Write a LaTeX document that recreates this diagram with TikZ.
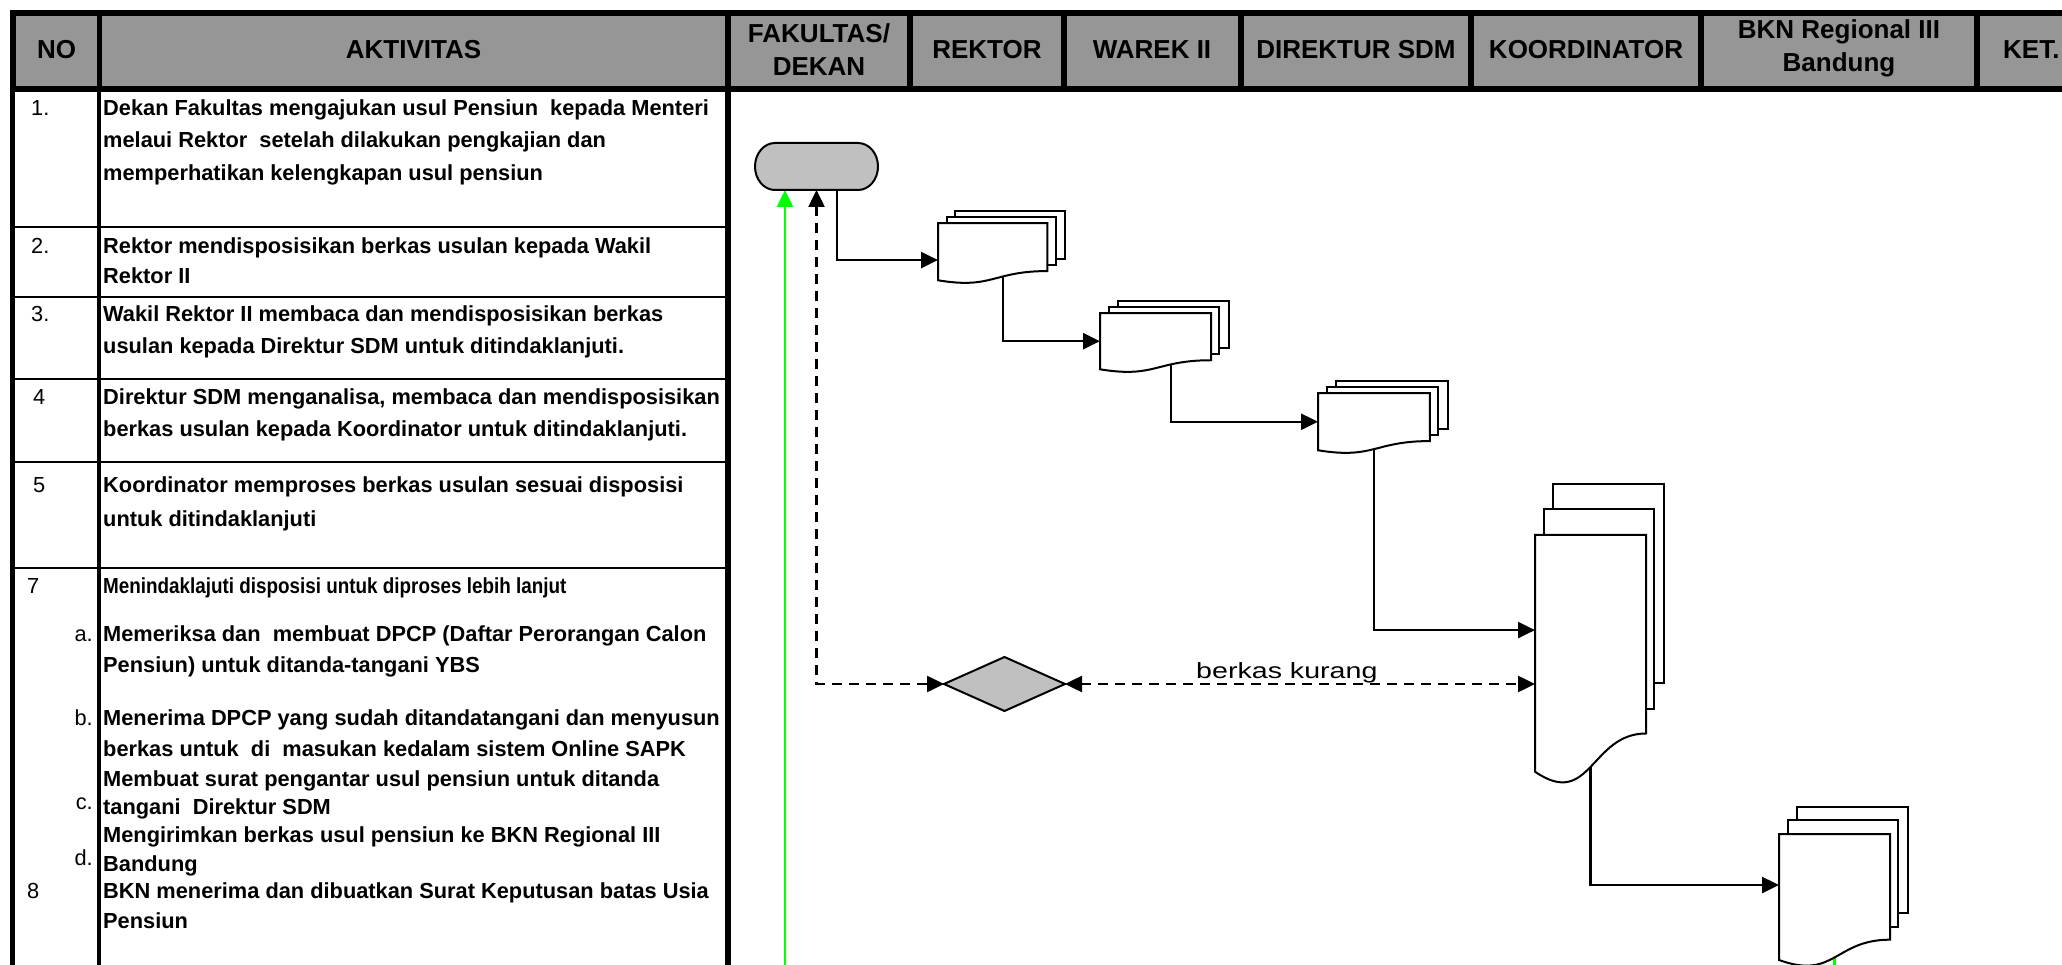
\documentclass[tikz,border=0pt]{standalone}
\usepackage{fontspec}
\usepackage{graphicx}
\setmainfont{Liberation Sans}
\usetikzlibrary{arrows.meta}
\definecolor{hdrgray}{HTML}{969696}
\definecolor{shgray}{HTML}{C0C0C0}
\definecolor{lgreen}{HTML}{00FF00}
% invisible node for the front page of a multi-document shape: name, x0, y0, w, h
\newcommand{\mdocnode}[5]{%
  \node[anchorbox, anchor=north west, minimum width=0.8609*#4pt, minimum height=0.792*#5pt] (#1) at ({#2},{#3+0.1701*#5}) {};}
% visible multi-document shape: x0, y0, w, h
\newcommand{\mdocdraw}[4]{%
  \draw[outl, fill=white] ({#1+0.1376*#3},{#2}) rectangle ({#1+#3},{#2+0.6663*#4});
  \draw[outl, fill=white] ({#1+0.0709*#3},{#2+0.084*#4}) rectangle ({#1+0.9259*#3},{#2+0.7524*#4});
  \draw[outl, fill=white] ({#1},{#2+0.1701*#4}) -- ({#1+0.8609*#3},{#2+0.1701*#4})
     -- ({#1+0.8609*#3},{#2+0.8344*#4})
     .. controls ({#1+0.4305*#3},{#2+0.8344*#4}) and ({#1+0.4305*#3},{#2+1.0899*#4}) ..
     ({#1},{#2+0.9621*#4}) -- cycle;}
\begin{document}
\begin{tikzpicture}[x=1pt,y=-1pt,
  hline/.style={line width=6pt},
  rowline/.style={line width=2pt},
  hdr/.style={font=\fontsize{26}{30}\selectfont\bfseries, anchor=base, inner sep=0},
  txt/.style={font=\fontsize{21.8}{26}\selectfont\bfseries, anchor=base west, inner sep=0},
  num/.style={font=\fontsize{21.8}{26}\selectfont, anchor=base west, inner sep=0},
  subn/.style={font=\fontsize{21.8}{26}\selectfont, anchor=base east, inner sep=0},
  flow/.style={line width=2.5pt, -{Triangle[length=17pt,width=16pt]}},
  dflow/.style={line width=2.5pt, dash pattern=on 10pt off 7pt, {Triangle[length=17pt,width=16pt]}-{Triangle[length=17pt,width=16pt]}},
  gflow/.style={line width=2.5pt, draw=lgreen, -{Triangle[length=17pt,width=16pt]}},
  outl/.style={line width=2pt, draw=black, line join=miter},
  anchorbox/.style={inner sep=0, outer sep=0, draw=none},
]
\fill[white] (0,0) rectangle (2062,965);
\useasboundingbox (0,0) rectangle (2062,965);
\clip (0,0) rectangle (2062,965);

% header
\fill[hdrgray] (10,10) rectangle (2062,92);
\draw[hline] (10,13) -- (2062,13);
\draw[hline] (10,89) -- (2062,89);
\foreach \x in {13,728,910,1064,1240.5,1471,1701,1977} \draw[hline] (\x,10) -- (\x,92);
\draw[line width=5.5pt] (99.5,10) -- (99.5,92);

% body grid
\draw[line width=5pt] (12.5,89) -- (12.5,965);
\draw[line width=4.5pt] (99,89) -- (99,965);
\draw[line width=6pt] (728,89) -- (728,965);
\foreach \y in {227,297,379,462,568} \draw[rowline] (10,\y) -- (728,\y);

% header texts
\node[hdr] (hno) at (56.5,59) {NO};
\node[hdr] (hakt) at (413.5,59) {AKTIVITAS};
\node[hdr] (hfak1) at (819,43) {FAKULTAS/};
\node[hdr] (hfak2) at (819,76) {DEKAN};
\node[hdr] (hrek) at (987,59) {REKTOR};
\node[hdr] (hwar) at (1152,59) {WAREK II};
\node[hdr] (hdir) at (1356,59) {DIREKTUR SDM};
\node[hdr] (hkoo) at (1586,59) {KOORDINATOR};
\node[hdr] (hbkn1) at (1839,39) {BKN Regional III};
\node[hdr] (hbkn2) at (1839,72) {Bandung};
\node[hdr, anchor=base west] (hket) at (2003,59) {KET.};

% numbers
\node[num] (n1) at (31,116) {1.};
\node[num] (n2) at (31,254) {2.};
\node[num] (n3) at (31,322) {3.};
\node[num] (n4) at (33,405) {4};
\node[num] (n5) at (33,493) {5};
\node[num] (n7) at (27,593) {7};
\node[subn] (na) at (93,641) {a.};
\node[subn] (nb) at (93,725) {b.};
\node[subn] (nc) at (93,809) {c.};
\node[subn] (nd) at (93,865) {d.};
\node[num] (n8) at (27,898) {8};

% activity texts
\node[txt] (t1a) at (103,116) {Dekan Fakultas mengajukan usul Pensiun \ kepada Menteri};
\node[txt] (t1b) at (103,148) {melaui Rektor \ setelah dilakukan pengkajian dan};
\node[txt] (t1c) at (103,181) {memperhatikan kelengkapan usul pensiun};
\node[txt] (t2a) at (103,254) {Rektor mendisposisikan berkas usulan kepada Wakil};
\node[txt] (t2b) at (103,284) {Rektor II};
\node[txt] (t3a) at (103,322) {Wakil Rektor II membaca dan mendisposisikan berkas};
\node[txt] (t3b) at (103,354) {usulan kepada Direktur SDM untuk ditindaklanjuti.};
\node[txt] (t4a) at (103,405) {Direktur SDM menganalisa, membaca dan mendisposisikan};
\node[txt] (t4b) at (103,437) {berkas usulan kepada Koordinator untuk ditindaklanjuti.};
\node[txt] (t5a) at (103,493) {Koordinator memproses berkas usulan sesuai disposisi};
\node[txt] (t5b) at (103,526) {untuk ditindaklanjuti};
\node[txt] (t7) at (103,593) {\scalebox{0.865}[1]{Menindaklajuti disposisi untuk diproses lebih lanjut}};
\node[txt] (tAa) at (103,641) {Memeriksa dan \ membuat DPCP (Daftar Perorangan Calon};
\node[txt] (tAb) at (103,672) {Pensiun) untuk ditanda-tangani YBS};
\node[txt] (tBa) at (103,725) {Menerima DPCP yang sudah ditandatangani dan menyusun};
\node[txt] (tBb) at (103,756) {berkas untuk \ di \ masukan kedalam sistem Online SAPK};
\node[txt] (tCa) at (103,786) {Membuat surat pengantar usul pensiun untuk ditanda};
\node[txt] (tCb) at (103,814) {tangani \ Direktur SDM};
\node[txt] (tDa) at (103,842) {Mengirimkan berkas usul pensiun ke BKN Regional III};
\node[txt] (tDb) at (103,871) {Bandung};
\node[txt] (t8a) at (103,898) {BKN menerima dan dibuatkan Surat Keputusan batas Usia};
\node[txt] (t8b) at (103,928) {Pensiun};

% flow nodes (invisible anchors)
\node[anchorbox, minimum width=123pt, minimum height=47pt] (term) at (816.5,166.5) {};
\node[anchorbox, minimum width=121pt, minimum height=54pt] (dia) at (1004.5,684) {};
\mdocnode{d1}{938}{211}{127}{72}
\mdocnode{d2}{1100}{301}{129}{71}
\mdocnode{d3}{1318}{381}{130}{72}
\mdocnode{d4}{1535}{484}{129}{299}
\mdocnode{d5}{1779}{807}{129}{159}

% connectors
\draw[gflow] (d5.center) -- ++(0,120) -| ([xshift=-31.5pt]term.south);
\draw[dflow] (term.south) |- (dia.west);
\draw[dflow] (dia.east) -- (d4.west |- dia.east)
  node[pos=0.472, anchor=base, yshift=6pt, inner sep=0, font=\fontsize{22}{26}\selectfont] (lbl) {\scalebox{1.3}[1]{berkas kurang}};
\draw[flow] ([xshift=20.5pt]term.center) |- ([yshift=-8.3pt]d1.west);
\draw[flow] ([xshift=10.3pt]d1.center) |- (d2.west);
\draw[flow] ([xshift=15.5pt]d2.center) |- (d3.west);
\draw[flow] (d3.center) |- ([yshift=23.2pt]d4.west);
\draw[flow] (d4.center) |- ([yshift=12pt]d5.west);

% shapes
\draw[outl, fill=shgray] (775,143) -- (858,143)
  .. controls (869.05,143) and (878,153.52) .. (878,166.5)
  .. controls (878,179.48) and (869.05,190) .. (858,190)
  -- (775,190)
  .. controls (763.95,190) and (755,179.48) .. (755,166.5)
  .. controls (755,153.52) and (763.95,143) .. (775,143) -- cycle;
\draw[outl, fill=shgray] (dia.west) -- (dia.north) -- (dia.east) -- (dia.south) -- cycle;
\mdocdraw{938}{211}{127}{72}
\mdocdraw{1100}{301}{129}{71}
\mdocdraw{1318}{381}{130}{72}
\mdocdraw{1535}{484}{129}{299}
\mdocdraw{1779}{807}{129}{159}
\end{tikzpicture}
\end{document}
